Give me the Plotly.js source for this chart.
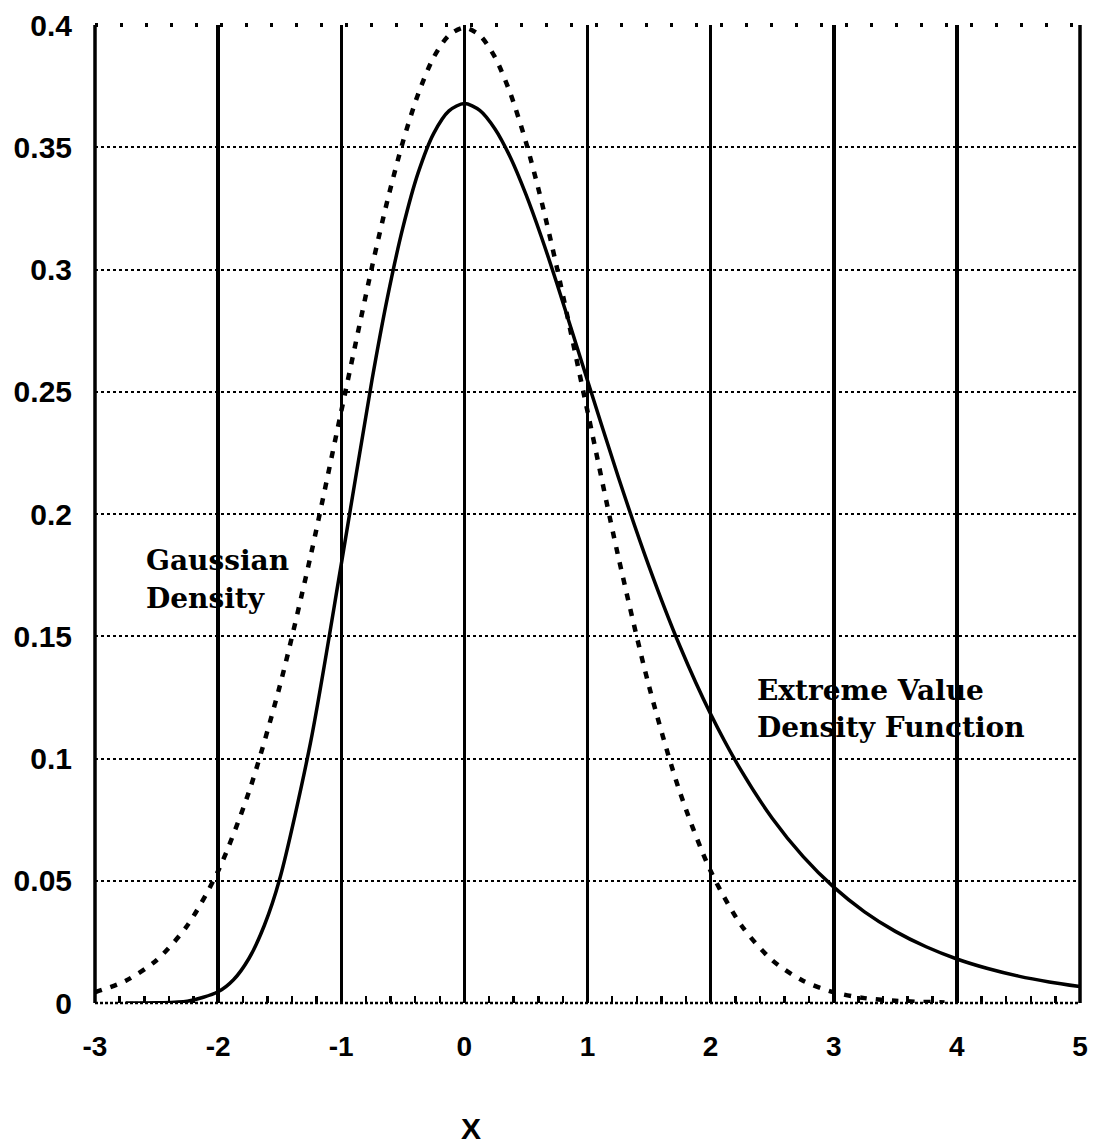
<!DOCTYPE html>
<html>
<head>
<meta charset="utf-8">
<script src="https://cdn.plot.ly/plotly-3.0.1.min.js"></script>
<style>html,body{margin:0;padding:0;background:#fff;}#chart{width:1093px;height:1148px;}</style>
</head>
<body>
<div id="chart"></div>
<script>
// Gaussian density (dashed)
const gaussX = [-3, -2.75, -2.5, -2.25, -2, -1.75, -1.5, -1.25, -1, -0.75, -0.625, -0.5, -0.375, -0.25, -0.125, 0, 0.125, 0.25, 0.375, 0.5, 0.625, 0.75, 1, 1.25, 1.5, 1.75, 2, 2.25, 2.5, 2.75, 3, 3.25, 3.5, 3.9];
const gaussY = [0.0044, 0.0091, 0.0175, 0.0317, 0.0540, 0.0863, 0.1295, 0.1826, 0.2420, 0.3011, 0.3282, 0.3521, 0.3718, 0.3867, 0.3958, 0.3989, 0.3958, 0.3867, 0.3718, 0.3521, 0.3282, 0.3011, 0.2420, 0.1826, 0.1295, 0.0863, 0.0540, 0.0317, 0.0175, 0.0091, 0.0044, 0.0020, 0.0009, 0.0002];
// Extreme value density (solid)
const evX = [-2.75, -2.5, -2.25, -2, -1.875, -1.75, -1.625, -1.5, -1.25, -1, -0.75, -0.625, -0.5, -0.375, -0.25, -0.125, 0, 0.125, 0.25, 0.375, 0.5, 0.625, 0.75, 1, 1.25, 1.5, 1.75, 2, 2.25, 2.5, 2.75, 3, 3.25, 3.5, 3.75, 4, 4.25, 4.5, 4.75, 5];
const evY = [0.0000, 0.0001, 0.0007, 0.0046, 0.0095, 0.0182, 0.0317, 0.0507, 0.1064, 0.1794, 0.2549, 0.2885, 0.3170, 0.3396, 0.3556, 0.3649, 0.3679, 0.3651, 0.3574, 0.3457, 0.3307, 0.3134, 0.2945, 0.2546, 0.2151, 0.1785, 0.1460, 0.1182, 0.0949, 0.0756, 0.0600, 0.0474, 0.0373, 0.0293, 0.0230, 0.0180, 0.0141, 0.0110, 0.0086, 0.0067];
const xTicks = [-3, -2, -1, 0, 1, 2, 3, 4, 5];
const xTickText = ['-3', '-2', '-1', '0', '1', '2', '3', '4', '5'];
const yTicks = [0, 0.05, 0.1, 0.15, 0.2, 0.25, 0.3, 0.35, 0.4];
const yTickText = ['0', '0.05', '0.1', '0.15', '0.2', '0.25', '0.3', '0.35', '0.4'];
const gaussLines = ['Gaussian', 'Density'];
const evLines = ['Extreme Value', 'Density Function'];
const xTitle = 'X';

const traces = [
  {x: gaussX, y: gaussY, mode: 'lines', line: {color: '#000', width: 4.5, dash: '7px,9px', shape: 'spline', smoothing: 0.8}, hoverinfo: 'skip'},
  {x: evX, y: evY, mode: 'lines', line: {color: '#000', width: 3.5, shape: 'spline', smoothing: 0.8}, hoverinfo: 'skip'}
];

const sans = 'Liberation Sans, Arial, sans-serif';
const serifFont = {family: 'DejaVu Serif, serif', size: 28, color: '#000', weight: 'bold'};

const annotations = [];
const gaussPos = [[-2.6, 0.181], [-2.6, 0.1655]];
gaussLines.forEach((t, i) => annotations.push({x: gaussPos[i][0], y: gaussPos[i][1], xref: 'x', yref: 'y', text: t, showarrow: false, xanchor: 'left', yanchor: 'middle', font: serifFont}));
const evPos = [[2.36, 0.128], [2.36, 0.1128]];
evLines.forEach((t, i) => annotations.push({x: evPos[i][0], y: evPos[i][1], xref: 'x', yref: 'y', text: t, showarrow: false, xanchor: 'left', yanchor: 'middle', font: serifFont}));

const W = 1093, H = 1148, ML = 95, MR = 13, MT = 25, MB = 145;
// x-axis title, placed in paper coordinates
annotations.push({x: (471 - ML) / (W - ML - MR), y: (H - MB - 1128) / (H - MT - MB), xref: 'paper', yref: 'paper', text: xTitle, showarrow: false, xanchor: 'center', yanchor: 'middle',
  font: {family: sans, size: 30, color: '#000', weight: 'bold'}});

const shapes = [
  {type: 'line', xref: 'paper', yref: 'paper', x0: 0, x1: 0, y0: 0, y1: 1, line: {color: '#000', width: 3.5}},
  {type: 'line', xref: 'paper', yref: 'paper', x0: 1, x1: 1, y0: 0, y1: 1, line: {color: '#000', width: 3.5}},
  {type: 'line', xref: 'paper', yref: 'paper', x0: 0, x1: 1, y0: 1, y1: 1, line: {color: '#000', width: 4, dash: '3px,22px'}},
  {type: 'line', xref: 'paper', yref: 'paper', x0: 0, x1: 1, y0: 0, y1: 0, line: {color: '#000', width: 2.5, dash: '3px,2px'}}
];

const layout = {
  width: W, height: H,
  margin: {l: ML, r: MR, t: MT, b: MB},
  paper_bgcolor: '#fff', plot_bgcolor: '#fff',
  showlegend: false,
  xaxis: {
    range: [-3, 5], tickvals: xTicks, ticktext: xTickText,
    showgrid: true, gridcolor: '#000', gridwidth: 3.5,
    zeroline: false, showline: false,
    ticks: '', tickfont: {family: sans, size: 28, color: '#000', weight: 'bold'}, ticklabelstandoff: 24,
    minor: {dtick: 0.2, tick0: 0, ticks: 'inside', ticklen: 7, tickwidth: 2.5, tickcolor: '#000', showgrid: false}
  },
  yaxis: {
    range: [0, 0.4], tickvals: yTicks, ticktext: yTickText,
    showgrid: true, gridcolor: '#000', gridwidth: 2, griddash: 'dot',
    zeroline: false, showline: false,
    ticks: '', tickfont: {family: sans, size: 30, color: '#000', weight: 'bold'}, ticklabelstandoff: 22
  },
  shapes: shapes,
  annotations: annotations
};

Plotly.newPlot('chart', traces, layout, {displayModeBar: false, staticPlot: true});
</script>
</body>
</html>
